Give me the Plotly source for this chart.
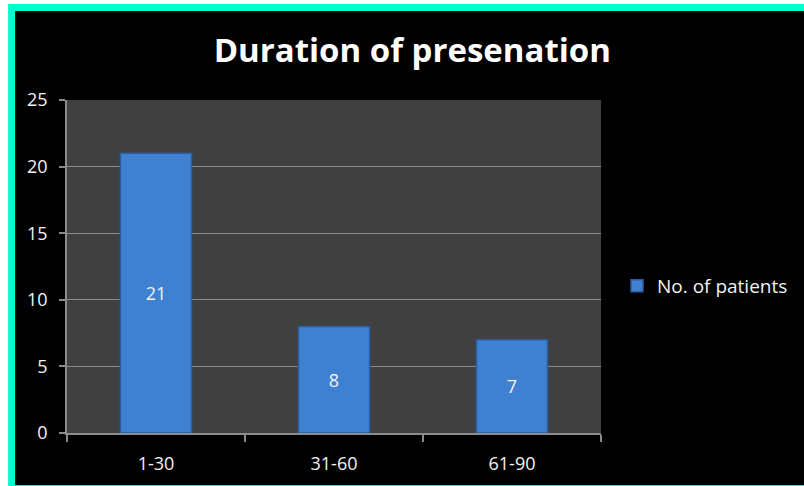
import plotly.graph_objects as go

# Chart data
categories = ["1-30", "31-60", "61-90"]
patients = [21, 8, 7]
series_name = "No. of patients"
chart_title = "Duration of presenation"
y_ticks = [0, 5, 10, 15, 20, 25]

W, H = 804, 486
ML, MR, MT, MB = 67, 202, 100, 53
PW, PH = W - ML - MR, H - MT - MB


def px_x(px):
    return (px - ML) / PW


def px_y(py):
    return (H - MB - py) / PH


FONT = "Open Sans"
TEXT = "#f2f2f2"
AXIS = "#8c8c8c"

fig = go.Figure()
fig.add_trace(go.Bar(
    x=categories,
    y=patients,
    name=series_name,
    text=[str(v) for v in patients],
    textposition="inside",
    insidetextanchor="middle",
    textfont=dict(family=FONT, size=18, color=TEXT),
    marker=dict(color="#4080d0", line=dict(color="#2a5c9e", width=1.5)),
    showlegend=True,
))

fig.update_layout(
    width=W, height=H,
    margin=dict(l=ML, r=MR, t=MT, b=MB, pad=0),
    paper_bgcolor="#ffffff",
    plot_bgcolor="#404040",
    bargap=0.6,
    title=dict(
        text="<b>" + chart_title + "</b>",
        font=dict(family=FONT, size=33, color="#ffffff"),
        xref="paper", x=px_x(413), xanchor="center",
        yref="container", y=1 - 50 / H, yanchor="middle",
    ),
    legend=dict(
        x=px_x(617), y=px_y(286), xanchor="left", yanchor="middle",
        font=dict(family=FONT, size=19, color=TEXT),
        bgcolor="rgba(0,0,0,0)", itemwidth=30,
    ),
    xaxis=dict(
        showgrid=False,
        showline=True, linecolor=AXIS, linewidth=1.5,
        ticks="outside", ticklen=7, tickcolor=AXIS, tickwidth=1.5,
        tickson="boundaries",
        ticklabelstandoff=14,
        tickfont=dict(family=FONT, size=18, color=TEXT),
        fixedrange=True,
    ),
    yaxis=dict(
        range=[0, 25],
        tickvals=y_ticks,
        showgrid=True, gridcolor=AXIS, gridwidth=1,
        showline=True, linecolor=AXIS, linewidth=1.5,
        ticks="outside", ticklen=6, tickcolor=AXIS, tickwidth=1.5,
        ticklabelstandoff=8,
        tickfont=dict(family=FONT, size=18, color=TEXT),
        zeroline=False,
        fixedrange=True,
    ),
    shapes=[
        # turquoise frame
        dict(type="rect", xref="paper", yref="paper", layer="below",
             x0=px_x(8), x1=px_x(W + 2), y0=px_y(H + 2), y1=px_y(4),
             fillcolor="#00ffcc", line=dict(width=0)),
        # black chart background
        dict(type="rect", xref="paper", yref="paper", layer="below",
             x0=px_x(15), x1=px_x(W + 2), y0=px_y(485), y1=px_y(11),
             fillcolor="#000000", line=dict(width=0)),
        # grey plot area
        dict(type="rect", xref="paper", yref="paper", layer="below",
             x0=0, x1=1, y0=0, y1=1,
             fillcolor="#404040", line=dict(width=0)),
    ],
)

fig.write_html("out.html", config={"displayModeBar": False})
